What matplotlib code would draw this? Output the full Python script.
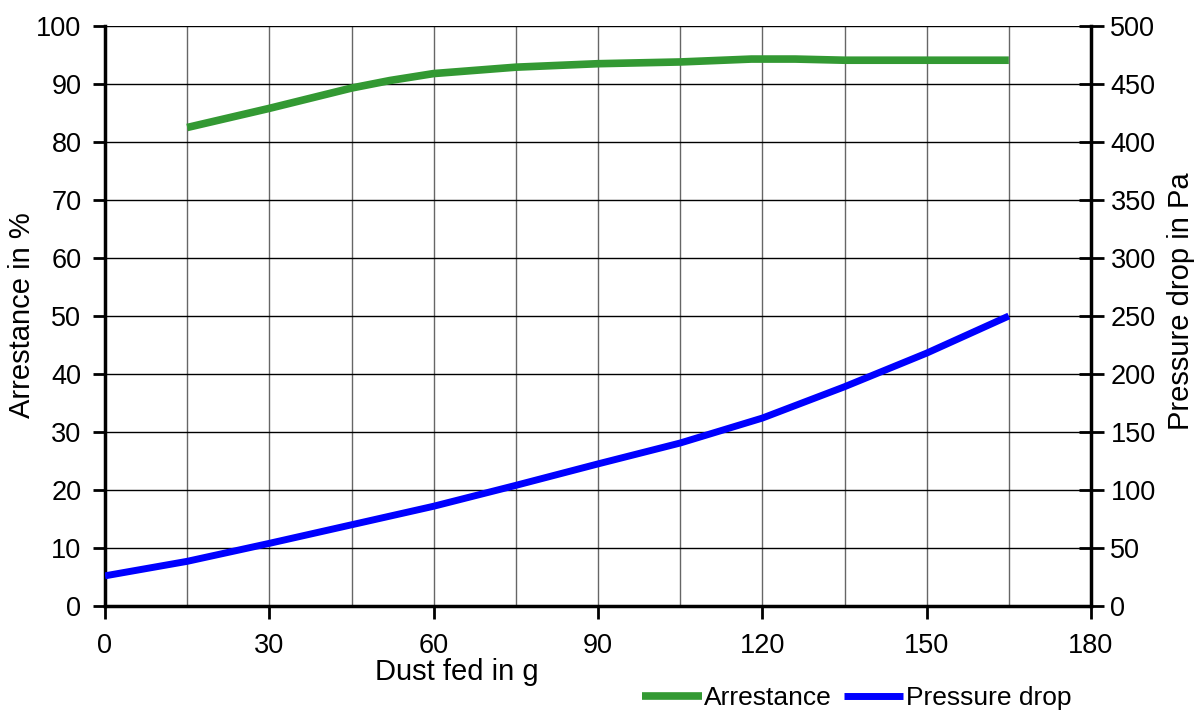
import matplotlib
matplotlib.use("Agg")
import matplotlib.pyplot as plt
from matplotlib.ticker import MultipleLocator

plt.rcParams['font.family'] = ['Liberation Sans', 'DejaVu Sans']

dust_arr = [15, 30, 45, 52, 60, 75, 90, 105, 118, 126, 135, 150, 165]
arrestance = [82.5, 85.8, 89.3, 90.6, 91.8, 92.9, 93.5, 93.8, 94.3, 94.3, 94.1, 94.1, 94.1]

dust_dp = [0, 15, 30, 45, 60, 75, 90, 105, 120, 135, 150, 165]
pressure = [26, 38.5, 54, 70, 86, 104, 122.5, 140.5, 162, 189, 218, 250]

x_ticks = [0, 30, 60, 90, 120, 150, 180]
left_ticks = list(range(0, 101, 10))
right_ticks = list(range(0, 501, 50))

TS = 19.5   # tick labels
LS = 21     # axis labels
GS = 19     # legend

fig = plt.figure(figsize=(11.96, 7.13), dpi=100)
ax = fig.add_axes([105/1196, 1-606/713, (1091-105)/1196, (606-26)/713])
ax2 = ax.twinx()

ax.set_xlim(0, 180)
ax.set_ylim(0, 100)
ax2.set_ylim(0, 500)

ax.set_xticks(x_ticks)
ax.xaxis.set_minor_locator(MultipleLocator(15))
ax.set_yticks(left_ticks)
ax2.set_yticks(right_ticks)

ax.grid(True, which='both', axis='x', color='#666666', lw=1.0)
ax.grid(True, which='major', axis='y', color='black', lw=1.0)
ax.set_axisbelow(True)

ax.tick_params(axis='x', which='major', direction='out', length=9, width=2, labelsize=TS, pad=10.5)
ax.tick_params(axis='x', which='minor', length=0)
ax.tick_params(axis='y', direction='out', length=9, width=2, labelsize=TS, pad=8)
ax2.tick_params(axis='y', direction='inout', length=18, width=2, labelsize=TS, pad=5)

for s in ['left', 'bottom']:
    ax.spines[s].set_linewidth(2.5)
ax.spines['top'].set_visible(False)
ax2.spines['top'].set_visible(False)
ax.spines['right'].set_visible(False)
ax2.spines['left'].set_visible(False)
ax2.spines['bottom'].set_visible(False)
ax2.spines['right'].set_linewidth(2.5)

ga, = ax.plot(dust_arr, arrestance, color='#339933', lw=5.5, solid_capstyle='butt',
              solid_joinstyle='round', label='Arrestance', zorder=3)
bp, = ax2.plot(dust_dp, pressure, color='#0000FF', lw=5.0, solid_capstyle='butt',
               solid_joinstyle='round', label='Pressure drop', zorder=3)

fig.text(22/1196, 1-315/713, 'Arrestance in %', fontsize=LS, rotation=90,
         ha='center', va='center')
fig.text(1181/1196, 1-301/713, 'Pressure drop in Pa', fontsize=LS, rotation=90,
         ha='center', va='center')
fig.text(457/1196, 1-672/713, 'Dust fed in g', fontsize=LS, ha='center', va='center')

fig.legend(handles=[ga, bp], loc='center', bbox_to_anchor=(857/1196, 1-698/713),
           ncol=2, frameon=False, fontsize=GS, handlelength=2.25, handletextpad=0.1,
           columnspacing=0.45, borderpad=0)

fig.savefig('out.png', dpi=100)
